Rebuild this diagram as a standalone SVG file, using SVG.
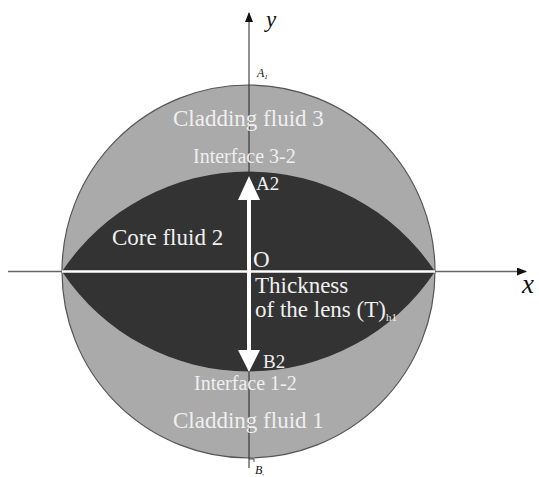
<svg xmlns="http://www.w3.org/2000/svg" width="539" height="477" viewBox="0 0 539 477">
<style>
.t{font-family:"Liberation Serif","Times New Roman",serif;fill:#efefef}
.i{font-family:"Liberation Serif","Times New Roman",serif;font-style:italic;fill:#111}
</style>
<defs>
<marker id="ah" markerWidth="10" markerHeight="8" refX="9" refY="4" orient="auto" markerUnits="userSpaceOnUse">
<path d="M0,0 L10,4 L0,8 Z" fill="#111"/>
</marker>
</defs>
<rect width="539" height="477" fill="#fff"/>
<g id="cladding">
<circle cx="248.5" cy="271.5" r="186.5" fill="#aaaaaa" stroke="#555" stroke-width="1.2"/>
</g>
<g id="connectors">
<line x1="8" y1="271.5" x2="526" y2="271.5" stroke="#666" stroke-width="1.5" marker-end="url(#ah)"/>
<line x1="249" y1="468" x2="249" y2="13" stroke="#222" stroke-width="1" marker-end="url(#ah)"/>
<path d="M249,459 H254 V462" fill="none" stroke="#222" stroke-width="0.8"/>
</g>
<g id="core">
<path d="M62,271.5 A224,224 0 0 1 435,271.5 A224,224 0 0 1 62,271.5 Z" fill="#333333"/>
</g>
<g id="thickness">
<line x1="62" y1="271.5" x2="435" y2="271.5" stroke="#fff" stroke-width="2.5"/>
<line x1="249" y1="198" x2="249" y2="352" stroke="#fff" stroke-width="4"/>
<path d="M249,176 L260,200 L238,200 Z" fill="#fff"/>
<path d="M249,372 L260,350 L238,350 Z" fill="#fff"/>
</g>
<g id="labels">
<text class="i" x="266" y="27" font-size="23">y</text>
<text class="i" x="257" y="77" font-size="12">A<tspan font-size="7" dy="2">1</tspan></text>
<text class="t" x="173" y="126" font-size="23">Cladding fluid 3</text>
<text class="t" x="193" y="163" font-size="20">Interface 3-2</text>
<text class="t" x="256" y="190" font-size="19">A2</text>
<text class="t" x="112" y="245" font-size="23">Core fluid 2</text>
<text class="t" x="253" y="267" font-size="23">O</text>
<text class="t" x="255" y="293" font-size="23">Thickness</text>
<text class="t" x="255" y="317" font-size="23">of the lens (T)<tspan font-size="11" dy="4">h1</tspan></text>
<text class="t" x="263" y="368" font-size="19">B2</text>
<text class="t" x="194" y="390" font-size="20">Interface 1-2</text>
<text class="t" x="173" y="428" font-size="23">Cladding fluid 1</text>
<text class="i" x="255" y="474" font-size="12">B<tspan font-size="7" dy="1">,</tspan></text>
<text class="i" x="522" y="293" font-size="27">x</text>
</g>
</svg>
